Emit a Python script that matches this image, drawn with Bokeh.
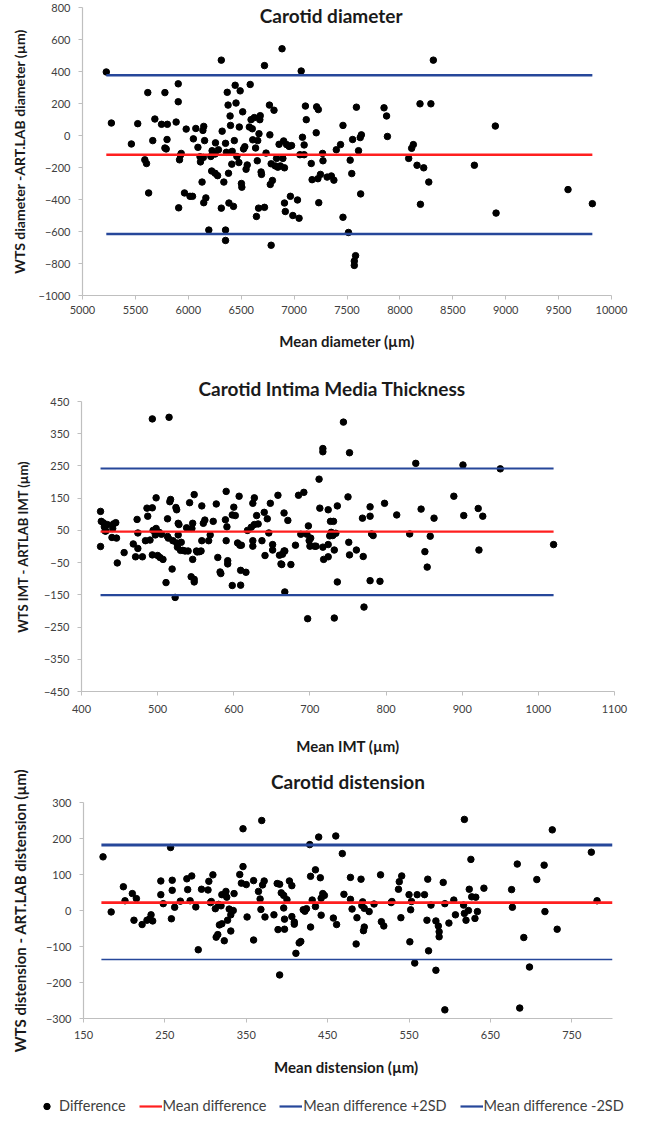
from bokeh.plotting import figure
from bokeh.layouts import column
from bokeh.models import Range1d, FixedTicker, Label, Legend, LegendItem
from bokeh.embed import file_html
from bokeh.resources import INLINE

# ---------------- Data: Carotid diameter ----------------
diam_mean = [5225, 5273, 5462, 5522, 5589, 5605, 5617, 5625, 5664, 5684,
             5747, 5779, 5779, 5799, 5802, 5791, 5885, 5905, 5905, 5909,
             5917, 5925, 5933, 5964, 5980, 6016, 6040, 6048, 6071, 6091,
             6111, 6115, 6130, 6138, 6146, 6146, 6154, 6166, 6142, 6194,
             6213, 6225, 6253, 6257, 6221, 6253, 6277, 6285, 6312, 6320,
             6312, 6336, 6352, 6352, 6352, 6360, 6368, 6376, 6380, 6384,
             6395, 6399, 6411, 6415, 6427, 6435, 6443, 6451, 6459, 6478,
             6482, 6490, 6502, 6506, 6514, 6522, 6534, 6546, 6557, 6577,
             6585, 6593, 6605, 6609, 6624, 6636, 6644, 6652, 6656, 6664,
             6668, 6676, 6680, 6688, 6692, 6720, 6720, 6735, 6767, 6771,
             6775, 6783, 6783, 6795, 6810, 6822, 6834, 6846, 6858, 6870,
             6886, 6894, 6901, 6909, 6909, 6917, 6929, 6953, 6965, 6976,
             6988, 7032, 7047, 7055, 7067, 7079, 7095, 7095, 7107, 7115,
             7162, 7170, 7209, 7213, 7229, 7225, 7233, 7249, 7269, 7273,
             7312, 7352, 7376, 7399, 7439, 7462, 7462, 7514, 7530, 7545,
             7553, 7569, 7581, 7569, 7589, 7609, 7625, 7629, 7636, 7850,
             7874, 7882, 8083, 8111, 8127, 8162, 8190, 8194, 8225, 8273,
             8293, 8316, 8704, 8902, 8909, 9589, 9819]
diam_diff = [397, 78, -53, 74, -152, -175, 268, -359, -32, 103,
             70, 268, -78, -25, 70, -84, 84, 323, 211, -452,
             -152, -124, -112, -359, 40, -380, -380, -21, 44, -74,
             -133, -165, -291, 32, 57, -420, -32, -390, -137, -591,
             -131, -95, -116, -46, -222, -236, -251, -89, 471, 27,
             -454, -291, -591, -656, -49, -105, 270, 190, -236, -422,
             122, 63, -179, -99, -443, -32, 314, 203, -131, -169,
             53, 279, -300, -323, 148, -84, -70, -211, -184, 53,
             319, 99, 42, -27, 112, -78, -506, -158, -32, -454,
             11, 99, 124, -228, -243, 437, -449, -110, 190, 4,
             -306, -686, -177, -281, 158, -190, -143, -198, -55, -190,
             542, -143, -34, -202, -422, -475, -57, -68, -380, -63,
             -500, -403, -517, -120, 403, -11, -59, -120, 184, 99,
             -175, -276, 17, 179, 162, -270, -420, -243, -112, -158,
             -260, -253, -279, -89, -57, 63, -511, -606, -154, -238,
             -25, -785, -751, -812, 177, -95, -13, -365, 4, 173,
             122, -6, -143, -80, -57, -186, 198, -430, -202, -291,
             198, 471, -186, 59, -485, -338, -426]
diam_line_x = [5225, 9819]
diam_stats = {"mean": -120, "upper": 376, "lower": -615}
diam_xticks = [5000, 5500, 6000, 6500, 7000, 7500, 8000, 8500, 9000, 9500, 10000]
diam_yticks = [-1000, -800, -600, -400, -200, 0, 200, 400, 600, 800]

# ---------------- Data: Carotid IMT ----------------
imt_mean = [425, 425, 426, 429, 430, 431, 434, 432, 441, 442,
            445, 440, 446, 447, 456, 468, 471, 473, 474, 474,
            480, 484, 486, 487, 490, 493, 493, 494, 493, 497,
            498, 498, 500, 502, 503, 505, 507, 511, 513, 513,
            514, 515, 516, 517, 519, 520, 523, 524, 525, 525,
            526, 527, 527, 528, 530, 531, 533, 536, 538, 540,
            542, 544, 545, 546, 546, 548, 548, 548, 551, 552,
            555, 557, 558, 558, 560, 562, 567, 569, 573, 577,
            579, 582, 583, 589, 590, 590, 591, 592, 592, 598,
            598, 600, 602, 605, 607, 608, 609, 609, 610, 616,
            618, 623, 625, 625, 625, 627, 627, 630, 632, 637,
            640, 641, 644, 646, 648, 651, 651, 658, 660, 662,
            663, 664, 666, 666, 667, 667, 671, 675, 681, 685,
            688, 692, 696, 697, 698, 699, 700, 701, 706, 708,
            712, 713, 717, 717, 717, 718, 724, 724, 724, 726,
            727, 728, 730, 731, 732, 732, 734, 736, 736, 744,
            750, 751, 752, 752, 761, 769, 770, 771, 779, 779,
            779, 781, 783, 792, 798, 814, 831, 839, 846, 851,
            854, 858, 863, 889, 901, 902, 921, 922, 927, 950,
            1020]
imt_diff = [109, 0, 78, 73, 61, 48, 68, 48, 56, 70,
            74, 28, 26, -51, -19, 8, -32, 84, 42, -6,
            -32, 18, 119, 94, 20, 120, -26, 50, 396, 36,
            151, 56, -28, 44, -34, 38, -40, -112, 31, 86,
            26, 401, 139, 146, -70, 18, -158, 121, 114, 11,
            -2, 36, 72, 68, -12, 13, -12, -14, 58, -14,
            136, -94, 56, 72, -40, -102, 161, -110, -14, -17,
            -16, -14, 126, 18, 72, 82, 18, 36, 78, 132,
            -34, -79, -84, 83, 171, 18, 61, -54, -44, -121,
            98, 122, 96, 11, 156, 4, -74, -120, 4, -80,
            50, 60, 18, 134, 1, 151, 68, 96, 70, 18,
            106, -28, 86, 42, 134, 6, -11, 159, -27, -54,
            -56, -24, 104, -14, -14, -141, 81, -56, 4, 159,
            38, 168, 38, -224, 64, 18, 1, 26, 1, 1,
            209, 119, 304, 294, -2, -40, -32, 114, 6, 33,
            78, 44, 34, 78, -222, -11, 41, 126, -110, 386,
            154, 13, -26, 291, -11, 88, -31, -188, 123, 94,
            -106, 39, 34, -108, 134, 98, 39, 258, 116, -16,
            -64, 32, 88, 156, 253, 96, 118, -11, 94, 241,
            6]
imt_line_x = [425, 1020]
imt_stats = {"mean": 46, "upper": 242, "lower": -151}
imt_xticks = [400, 500, 600, 700, 800, 900, 1000, 1100]
imt_yticks = [-450, -350, -250, -150, -50, 50, 150, 250, 350, 450]

# ---------------- Data: Carotid distension ----------------
dist_mean = [174, 184, 199, 201, 210, 212, 215, 222, 228, 231,
             233, 235, 245, 245, 248, 257, 259, 259, 258, 262,
             269, 277, 278, 281, 283, 288, 291, 295, 303, 304,
             306, 307, 309, 312, 313, 315, 316, 317, 319, 320,
             320, 323, 325, 326, 327, 329, 331, 331, 334, 335,
             342, 344, 346, 346, 350, 351, 359, 359, 365, 367,
             368, 369, 370, 373, 372, 384, 388, 389, 391, 391,
             393, 396, 396, 397, 397, 400, 403, 406, 406, 409,
             409, 411, 415, 417, 420, 422, 424, 428, 429, 429,
             431, 435, 435, 439, 441, 442, 442, 444, 446, 457,
             460, 461, 468, 470, 478, 478, 480, 485, 486, 491,
             492, 493, 494, 495, 495, 501, 507, 515, 516, 519,
             528, 529, 537, 538, 540, 541, 550, 551, 552, 553,
             557, 560, 569, 572, 573, 574, 577, 583, 583, 586,
             587, 587, 592, 594, 594, 599, 605, 607, 617, 618,
             618, 620, 623, 624, 626, 627, 631, 632, 634, 642,
             676, 677, 683, 686, 691, 698, 707, 716, 717, 726,
             732, 774, 781]
dist_diff = [149, -4, 66, 27, 47, -27, 33, -39, -27, -24,
             -12, -29, 82, 44, 19, 175, 84, 56, -23, 9,
             26, 88, 58, 27, 96, 10, -109, 59, 57, 81,
             22, 25, 99, 5, -74, -67, 17, -40, 13, -37,
             44, -84, 53, 37, -27, 4, -12, -57, 0, 47,
             100, 76, 227, 122, 72, -18, 83, -82, 53, 32,
             3, 250, 71, -18, 82, -12, 75, -53, 73, -179,
             49, 7, 42, -24, -52, 30, 82, 69, -17, -32,
             -38, -119, -90, -86, 2, -2, 5, 183, 95, -46,
             29, 11, 113, 204, 91, -13, 34, 47, 42, -21,
             207, -39, 158, 45, 92, 31, 4, -93, -20, 87,
             14, 24, -56, 6, -46, -3, 18, 99, -31, -43,
             22, 25, 59, 80, -20, 96, 44, -87, 2, 25,
             -146, 44, 44, -27, 87, -112, 15, -166, -29, -43,
             -59, -73, 78, 19, -276, -35, 29, -12, 15, 253,
             -8, -27, 0, 59, 142, 38, -22, 37, -3, 62,
             58, 9, 129, -271, -75, -157, 86, 126, -3, 224,
             -52, 162, 27]
dist_line_x = [172, 800]
dist_stats = {"mean": 22, "upper": 182, "lower": -136}
dist_xticks = [150, 250, 350, 450, 550, 650, 750]
dist_yticks = [-300, -200, -100, 0, 100, 200, 300]

legend_labels = ["Difference", "Mean difference", "Mean difference +2SD", "Mean difference -2SD"]

FONT = "Lato"
AXIS_COLOR = "#BFBFBF"
LABEL_COLOR = "#404040"
TITLE_COLOR = "#1A1A1A"
RED = "#FF1F1F"
BLUE = "#26479A"
DOT = "#000000"


def make_panel(height, borders, xr, yr, xticks, yticks, xlabel, ylabel,
               x_major_standoff, x_label_standoff, y_label_standoff, ylabel_size):
    p = figure(width=640, height=height, x_range=Range1d(*xr), y_range=Range1d(*yr),
               output_backend="svg", toolbar_location=None,
               min_border_left=borders[0], min_border_right=borders[1],
               min_border_top=borders[2], min_border_bottom=borders[3])
    p.frame_align = False
    p.xgrid.visible = False
    p.ygrid.visible = False
    p.outline_line_color = None
    p.xaxis.ticker = FixedTicker(ticks=xticks)
    p.yaxis.ticker = FixedTicker(ticks=yticks)
    p.xaxis.axis_label = xlabel
    p.yaxis.axis_label = ylabel
    for ax in (p.xaxis[0], p.yaxis[0]):
        ax.axis_line_color = AXIS_COLOR
        ax.axis_line_width = 1.2
        ax.major_tick_line_color = AXIS_COLOR
        ax.major_tick_out = 4
        ax.major_tick_in = 0
        ax.minor_tick_line_color = None
        ax.major_label_text_font = FONT
        ax.major_label_text_font_size = "11px"
        ax.major_label_text_color = LABEL_COLOR
        ax.axis_label_text_font = FONT
        ax.axis_label_text_font_style = "bold"
        ax.axis_label_text_color = TITLE_COLOR
    p.xaxis.axis_label_text_font_size = "15px"
    p.yaxis.axis_label_text_font_size = ylabel_size
    p.xaxis.major_label_standoff = x_major_standoff
    p.xaxis.axis_label_standoff = x_label_standoff
    p.yaxis.major_label_standoff = 8
    p.yaxis.axis_label_standoff = y_label_standoff
    return p


def add_series(p, xs, ys, line_x, stats, width_main, width_upper, width_lower, dot_size=6.5):
    d = p.scatter(xs, ys, size=dot_size, color=DOT, line_color=DOT)
    m = p.line(line_x, [stats["mean"]] * 2, line_color=RED, line_width=width_main)
    u = p.line(line_x, [stats["upper"]] * 2, line_color=BLUE, line_width=width_upper)
    l = p.line(line_x, [stats["lower"]] * 2, line_color=BLUE, line_width=width_lower)
    return [d, m, u, l]


def set_title(p, text, standoff, align, offset):
    p.title.text = text
    p.title.align = align
    p.title.offset = offset
    p.title.text_font = FONT
    p.title.text_font_size = "19px"
    p.title.text_font_style = "bold"
    p.title.text_color = TITLE_COLOR
    p.title.standoff = standoff


# Panel 1: diameter
p1 = make_panel(354, (82, 29, 7, 59), (5000, 10000), (-1000, 800), diam_xticks, diam_yticks,
                "Mean diameter (\u00b5m)", "WTS diameter -ART.LAB diameter (\u00b5m)", 6, 15, 8, "14px")
add_series(p1, diam_mean, diam_diff, diam_line_x, diam_stats, 2.5, 2.5, 2.5)
p1.add_layout(Label(x=7350, y=752, text="Carotid diameter", text_align="center",
                    text_baseline="middle", text_font=FONT, text_font_size="19px",
                    text_font_style="bold", text_color=TITLE_COLOR))

# Panel 2: IMT
p2 = make_panel(403, (81, 26, 47, 58), (400, 1100), (-450, 450), imt_xticks, imt_yticks,
                "Mean IMT (\u00b5m)", "WTS IMT - ARTLAB IMT (\u00b5m)", 9, 21, 10, "13px")
add_series(p2, imt_mean, imt_diff, imt_line_x, imt_stats, 2.2, 2.2, 2.2)
set_title(p2, "Carotid Intima Media Thickness", 3, "left", 117)

# Panel 3: distension
p3 = make_panel(331, (83, 28, 35, 70), (150, 800), (-300, 300), dist_xticks, dist_yticks,
                "Mean distension  (\u00b5m)", "WTS distension - ART.LAB distension (\u00b5m)", 8, 16, 14, "15px")
add_series(p3, dist_mean, dist_diff, dist_line_x, dist_stats, 2.8, 2.8, 1.5)
set_title(p3, "Carotid distension", 20, "center", 0)

# Legend strip: key glyphs come from the distension series, kept out of this strip's view
pl = figure(width=640, height=26, x_range=Range1d(0, 1), y_range=Range1d(0, 1),
            output_backend="svg", toolbar_location=None, min_border=0,
            x_axis_location=None, y_axis_location=None)
pl.frame_align = False
pl.xgrid.visible = False
pl.ygrid.visible = False
pl.outline_line_color = None
keys = add_series(pl, dist_mean, dist_diff, dist_line_x, dist_stats, 2.2, 2.2, 2.2, dot_size=6)
legend = Legend(items=[LegendItem(label=lab, renderers=[r]) for lab, r in zip(legend_labels, keys)],
                location=(35, 0), orientation="horizontal",
                label_text_font=FONT, label_text_font_size="14.5px", label_text_color=LABEL_COLOR,
                glyph_width=23, glyph_height=16, label_height=16, label_standoff=1, spacing=13,
                padding=0, margin=0, border_line_color=None, background_fill_alpha=0)
pl.add_layout(legend)

layout = column(p1, p2, p3, pl, spacing=0)
open("out.html", "w").write(file_html(layout, INLINE))
